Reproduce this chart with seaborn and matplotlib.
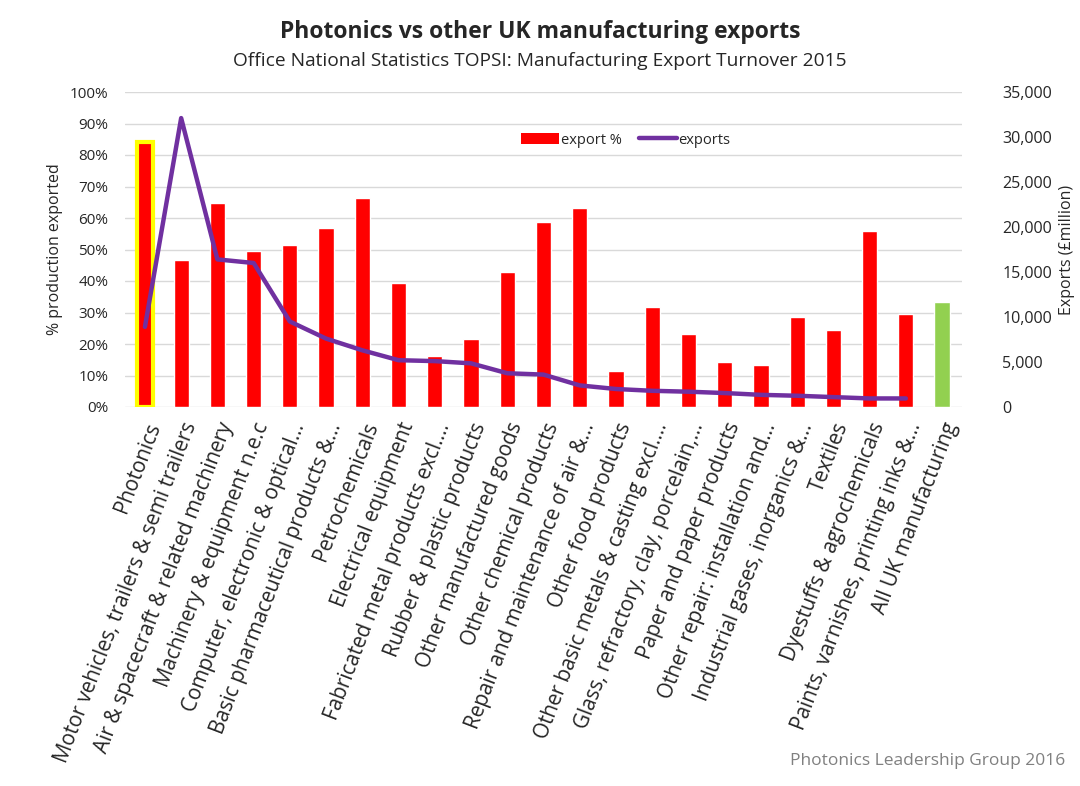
import numpy as np
import pandas as pd
import matplotlib
matplotlib.use("Agg")
import matplotlib.pyplot as plt
from matplotlib.patches import Patch
from matplotlib.lines import Line2D
from matplotlib.ticker import FuncFormatter, MultipleLocator
import seaborn as sns

categories = [
    "Photonics",
    "Motor vehicles, trailers & semi trailers",
    "Air & spacecraft & related machinery",
    "Machinery & equipment n.e.c",
    "Computer, electronic & optical...",
    "Basic pharmaceutical products &...",
    "Petrochemicals",
    "Electrical equipment",
    "Fabricated metal products excl....",
    "Rubber & plastic products",
    "Other manufactured goods",
    "Other chemical products",
    "Repair and maintenance of air &...",
    "Other food products",
    "Other basic metals & casting excl....",
    "Glass, refractory, clay, porcelain,...",
    "Paper and paper products",
    "Other repair: installation and...",
    "Industrial gases, inorganics &...",
    "Textiles",
    "Dyestuffs & agrochemicals",
    "Paints, varnishes, printing inks &...",
    "All UK manufacturing",
]
export_pct = [84.2, 46.7, 64.8, 49.5, 51.4, 56.8, 66.2, 39.3, 16.2, 21.7, 42.9,
              58.7, 63.3, 11.5, 31.8, 23.2, 14.3, 13.4, 28.7, 24.4, 56.0, 29.5, 33.4]
exports = [8900, 32100, 16400, 16000, 9500, 7600, 6300, 5200, 5100, 4850, 3750,
           3600, 2400, 2000, 1800, 1700, 1550, 1350, 1250, 1100, 950, 950]
bar_colors = ["#FF0000"] * 22 + ["#92D050"]

sns.set_style("white")
plt.rcParams["font.family"] = ["Open Sans", "DejaVu Sans"]

fig = plt.figure(figsize=(10.8, 7.86), dpi=100)
ax = fig.add_axes([125/1080, 1-407/786, (962-125)/1080, (407-92)/786])

df = pd.DataFrame({"cat": categories, "pct": export_pct})
sns.barplot(data=df, x="cat", y="pct", hue="cat", palette=bar_colors,
            legend=False, width=0.42, ax=ax, saturation=1)
ax.patches[0].set_edgecolor("#FFFF00")
ax.patches[0].set_linewidth(3)

ax.set_ylim(0, 100)
ax.yaxis.set_major_locator(MultipleLocator(10))
ax.yaxis.set_major_formatter(FuncFormatter(lambda v, p: f"{v:.0f}%"))
ax.grid(axis="y", color="#D9D9D9", linewidth=1)
ax.set_axisbelow(True)
for s in ax.spines.values():
    s.set_visible(False)
ax.tick_params(axis="y", length=0, labelsize=11, pad=12)
ax.tick_params(axis="x", length=0, labelsize=14.9, pad=9)
ax.set_xticks(range(len(categories)))
ax.set_xticklabels(categories, rotation=69, ha="right", rotation_mode="anchor")
ax.set_xlabel("")
ax.set_ylabel("% production exported", fontsize=11.5, labelpad=5)
ax.set_xlim(-0.55, len(categories) - 0.45)

ax2 = ax.twinx()
sns.lineplot(x=np.arange(len(exports)), y=exports, color="#7030A0",
             linewidth=3.2, ax=ax2)
ax2.set_ylim(0, 35000)
ax2.yaxis.set_major_locator(MultipleLocator(5000))
ax2.yaxis.set_major_formatter(FuncFormatter(lambda v, p: f"{v:,.0f}"))
ax2.tick_params(axis="y", length=0, labelsize=11.6, pad=29)
for s in ax2.spines.values():
    s.set_visible(False)
ax2.set_ylabel("Exports (£million)", fontsize=11.5, labelpad=5)

handles = [Patch(facecolor="#FF0000", edgecolor="none"),
           Line2D([0], [0], color="#7030A0", linewidth=3.2)]
ax.legend(handles, ["export %", "exports"], loc="center",
          bbox_to_anchor=((626-125)/837, 1-(140-92)/315), ncol=2, frameon=False,
          fontsize=10.5, handlelength=2.6, handletextpad=0.1, columnspacing=1.2)

fig.text(540/1080, 1-32/786, "Photonics vs other UK manufacturing exports",
         ha="center", va="center", fontsize=16.5, fontweight="bold")
fig.text(540/1080, 1-61/786,
         "Office National Statistics TOPSI: Manufacturing Export Turnover 2015",
         ha="center", va="center", fontsize=13.8)
fig.text(1065/1080, 1-761/786, "Photonics Leadership Group 2016",
         ha="right", va="center", fontsize=12.5, color="#808080")

fig.savefig("out.png", dpi=100)
